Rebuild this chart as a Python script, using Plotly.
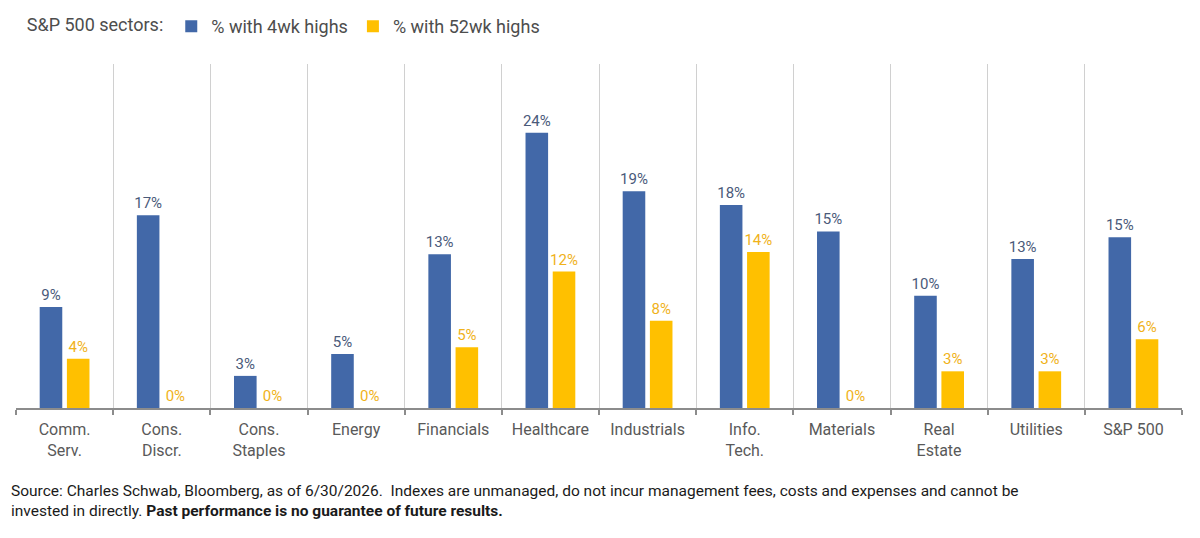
import plotly.graph_objects as go

categories = ["Comm.<br>Serv.", "Cons.<br>Discr.", "Cons.<br>Staples", "Energy", "Financials",
              "Healthcare", "Industrials", "Info.<br>Tech.", "Materials", "Real<br>Estate",
              "Utilities", "S&P 500"]
pct_4wk = [8.8, 16.8, 2.8, 4.7, 13.4, 24.0, 18.9, 17.7, 15.4, 9.8, 13.0, 14.9]
pct_52wk = [4.3, 0.0, 0.0, 0.0, 5.3, 11.9, 7.6, 13.6, 0.0, 3.2, 3.2, 6.0]

BLUE = "#4268A8"
GOLD = "#FFC000"
FONT = "Roboto, Arial, sans-serif"

fig = go.Figure()
fig.add_trace(go.Bar(
    x=categories, y=pct_4wk, name="% with 4wk highs",
    marker=dict(color=BLUE, line=dict(width=0)),
    texttemplate="%{y:.0f}%", textposition="outside", constraintext="none",
    textfont=dict(color="#4A5A7A", size=15, family=FONT),
    cliponaxis=False,
))
fig.add_trace(go.Bar(
    x=categories, y=pct_52wk, name="% with 52wk highs",
    marker=dict(color=GOLD, line=dict(width=0)),
    texttemplate="%{y:.0f}%", textposition="outside", constraintext="none",
    textfont=dict(color="#F0B21A", size=15, family=FONT),
    cliponaxis=False,
))

fig.update_layout(
    width=1200, height=538,
    margin=dict(l=16, r=18, t=64, b=130),
    paper_bgcolor="white", plot_bgcolor="white",
    barmode="group", bargap=0.44, bargroupgap=0.17,
    font=dict(family=FONT, color="#595959"),
    showlegend=True,
    legend=dict(
        orientation="h", x=0.0075, xref="paper", y=0.985, yref="container",
        xanchor="left", yanchor="top",
        title=dict(text="S&P 500 sectors:", side="left",
                   font=dict(size=18, color="#4D4D4D", family=FONT)),
        font=dict(size=18, color="#4D4D4D", family=FONT),
        itemwidth=30, traceorder="normal",
        bgcolor="rgba(0,0,0,0)",
    ),
    xaxis=dict(
        type="category", tickson="boundaries",
        showgrid=True, gridcolor="#D0D0D0", gridwidth=1,
        showline=True, linecolor="#8C8C8C", linewidth=2,
        ticks="outside", ticklen=5, tickwidth=2, tickcolor="#8C8C8C",
        ticklabelstandoff=6,
        tickfont=dict(size=16, color="#595959", family=FONT),
        zeroline=False,
    ),
    yaxis=dict(
        range=[0, 30], visible=False, showgrid=False, zeroline=False,
    ),
    annotations=[dict(
        xref="paper", yref="paper", x=-0.006, y=-0.21, xanchor="left", yanchor="top",
        align="left", showarrow=False,
        text=("Source: Charles Schwab, Bloomberg, as of 6/30/2026.  Indexes are unmanaged, do not incur "
              "management fees, costs and expenses and cannot be<br>invested in directly. "
              "<b>Past performance is no guarantee of future results.</b>"),
        font=dict(size=15.5, color="#1A1A1A", family=FONT),
    )],
)

fig.write_html("out.html")
